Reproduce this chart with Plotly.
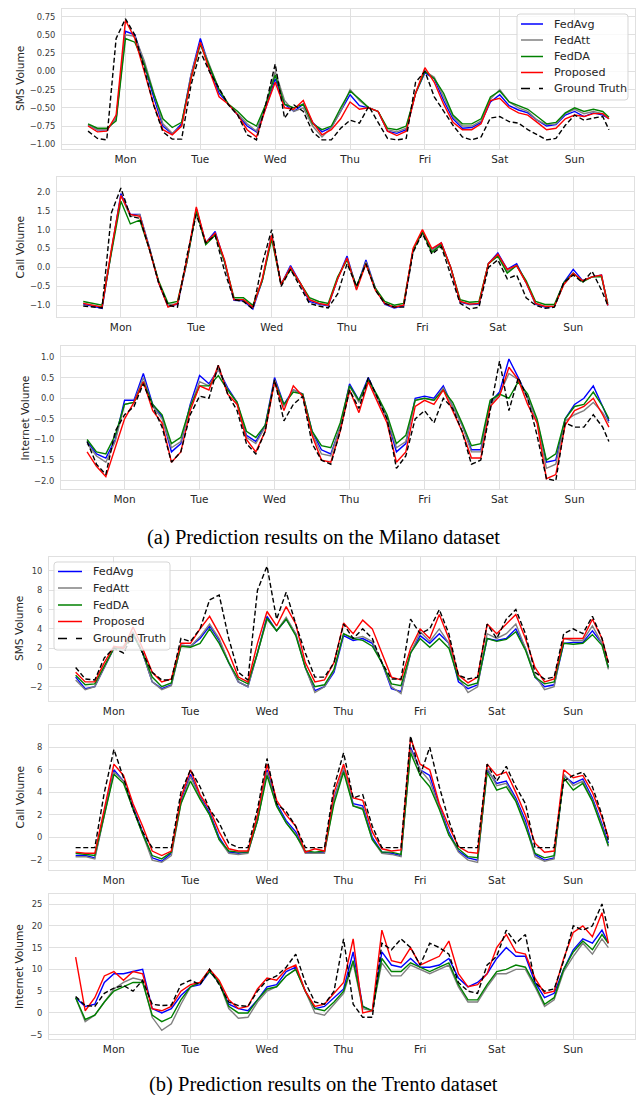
import plotly.graph_objects as go

# ---------------- data ----------------
hours = list(range(0, 166, 3)) + [167]
day_ticks = [12, 36, 60, 84, 108, 132, 156]
day_labels = ["Mon", "Tue", "Wed", "Thu", "Fri", "Sat", "Sun"]
series_names = ["FedAvg", "FedAtt", "FedDA", "Proposed", "Ground Truth"]

# Milano SMS
milano_sms_fedavg = [
    -0.73, -0.80, -0.80, -0.65, 0.55, 0.50, 0.10, -0.35,
    -0.75, -0.86, -0.72, -0.05, 0.45, 0.05, -0.30, -0.45,
    -0.60, -0.75, -0.83, -0.50, -0.10, -0.45, -0.55, -0.45,
    -0.70, -0.83, -0.77, -0.55, -0.32, -0.47, -0.50, -0.55,
    -0.82, -0.85, -0.80, -0.30, -0.02, -0.10, -0.40, -0.65,
    -0.78, -0.77, -0.70, -0.42, -0.32, -0.47, -0.53, -0.57,
    -0.67, -0.75, -0.73, -0.60, -0.55, -0.62, -0.57, -0.60,
    -0.65]
milano_sms_fedatt = [
    -0.73, -0.80, -0.80, -0.65, 0.50, 0.48, 0.15, -0.30,
    -0.72, -0.85, -0.75, -0.05, 0.40, 0.08, -0.25, -0.45,
    -0.58, -0.72, -0.82, -0.45, 0.00, -0.40, -0.55, -0.50,
    -0.75, -0.90, -0.77, -0.55, -0.25, -0.40, -0.50, -0.55,
    -0.80, -0.83, -0.78, -0.30, 0.00, -0.08, -0.35, -0.62,
    -0.75, -0.75, -0.68, -0.38, -0.25, -0.42, -0.50, -0.55,
    -0.67, -0.73, -0.72, -0.58, -0.52, -0.58, -0.55, -0.58,
    -0.65]
milano_sms_fedda = [
    -0.72, -0.78, -0.78, -0.68, 0.45, 0.40, 0.10, -0.30,
    -0.65, -0.77, -0.70, -0.10, 0.37, 0.05, -0.25, -0.45,
    -0.55, -0.68, -0.75, -0.45, -0.05, -0.45, -0.50, -0.45,
    -0.72, -0.80, -0.75, -0.50, -0.27, -0.38, -0.50, -0.55,
    -0.78, -0.80, -0.75, -0.30, 0.00, -0.10, -0.30, -0.60,
    -0.72, -0.72, -0.65, -0.35, -0.27, -0.42, -0.47, -0.52,
    -0.62, -0.72, -0.70, -0.57, -0.50, -0.55, -0.52, -0.55,
    -0.63]
milano_sms_proposed = [
    -0.75, -0.83, -0.82, -0.60, 0.70, 0.45, 0.00, -0.45,
    -0.80, -0.87, -0.75, -0.10, 0.40, 0.00, -0.35, -0.45,
    -0.60, -0.80, -0.90, -0.50, -0.15, -0.50, -0.52, -0.40,
    -0.70, -0.87, -0.80, -0.65, -0.42, -0.52, -0.50, -0.55,
    -0.82, -0.88, -0.82, -0.30, 0.05, -0.15, -0.45, -0.70,
    -0.80, -0.80, -0.72, -0.40, -0.37, -0.50, -0.57, -0.60,
    -0.70, -0.80, -0.78, -0.65, -0.60, -0.62, -0.58, -0.58,
    -0.65]
milano_sms_truth = [
    -0.82, -0.92, -0.94, 0.45, 0.72, 0.50, 0.04, -0.46,
    -0.83, -0.93, -0.93, -0.19, 0.27, -0.01, -0.23, -0.46,
    -0.60, -0.87, -0.94, -0.45, 0.10, -0.64, -0.46, -0.55,
    -0.83, -0.94, -0.94, -0.78, -0.67, -0.71, -0.48, -0.71,
    -0.92, -0.94, -0.92, -0.15, 0.00, -0.35, -0.55, -0.74,
    -0.90, -0.94, -0.90, -0.64, -0.62, -0.69, -0.71, -0.80,
    -0.87, -0.94, -0.92, -0.74, -0.60, -0.67, -0.64, -0.62,
    -0.80]

# Milano Call
milano_call_fedavg = [
    -0.97, -1.02, -1.08, 0.45, 1.95, 1.40, 1.40, 0.55,
    -0.40, -1.03, -0.97, 0.15, 1.55, 0.65, 0.95, 0.15,
    -0.87, -0.88, -1.10, -0.35, 0.85, -0.45, 0.05, -0.40,
    -0.90, -0.97, -1.02, -0.30, 0.30, -0.55, 0.20, -0.55,
    -0.97, -1.07, -1.02, 0.45, 0.95, 0.45, 0.65, 0.00,
    -0.92, -0.98, -0.97, 0.10, 0.38, -0.05, 0.10, -0.40,
    -0.97, -1.05, -1.03, -0.40, -0.05, -0.35, -0.25, -0.20,
    -1.00]
milano_call_fedatt = [
    -0.95, -1.00, -1.05, 0.45, 1.90, 1.35, 1.40, 0.55,
    -0.40, -1.00, -0.95, 0.15, 1.55, 0.65, 0.90, 0.15,
    -0.85, -0.85, -1.05, -0.35, 0.85, -0.45, 0.00, -0.40,
    -0.85, -0.95, -1.00, -0.30, 0.25, -0.55, 0.15, -0.55,
    -0.95, -1.05, -1.00, 0.45, 0.95, 0.45, 0.60, 0.00,
    -0.90, -0.97, -0.95, 0.10, 0.33, -0.10, 0.05, -0.40,
    -0.95, -1.03, -1.03, -0.45, -0.15, -0.35, -0.25, -0.22,
    -1.00]
milano_call_fedda = [
    -0.90, -0.95, -1.00, 0.40, 1.75, 1.15, 1.25, 0.50,
    -0.35, -0.95, -0.90, 0.15, 1.50, 0.60, 0.85, 0.15,
    -0.80, -0.80, -1.00, -0.35, 0.75, -0.45, -0.05, -0.40,
    -0.80, -0.90, -0.95, -0.25, 0.20, -0.50, 0.10, -0.55,
    -0.90, -1.00, -0.95, 0.45, 0.95, 0.40, 0.60, 0.00,
    -0.85, -0.92, -0.90, 0.10, 0.30, -0.15, 0.05, -0.35,
    -0.90, -0.98, -0.98, -0.40, -0.15, -0.38, -0.25, -0.25,
    -0.95]
milano_call_proposed = [
    -0.95, -1.00, -1.05, 0.50, 1.90, 1.40, 1.35, 0.50,
    -0.40, -1.05, -0.95, 0.20, 1.60, 0.65, 0.90, 0.20,
    -0.85, -0.85, -1.05, -0.30, 0.85, -0.45, 0.00, -0.40,
    -0.85, -0.95, -1.00, -0.30, 0.25, -0.60, 0.10, -0.60,
    -0.95, -1.05, -1.00, 0.50, 1.00, 0.50, 0.65, 0.00,
    -0.90, -0.97, -0.95, 0.10, 0.35, -0.05, 0.05, -0.40,
    -0.95, -1.03, -1.03, -0.45, -0.15, -0.35, -0.25, -0.20,
    -1.00]
milano_call_truth = [
    -1.02, -1.05, -1.07, 1.45, 2.10, 1.35, 1.30, 0.50,
    -0.40, -1.00, -1.05, 0.30, 1.40, 0.65, 0.85, -0.10,
    -0.85, -0.90, -1.10, 0.10, 1.00, -0.50, -0.05, -0.50,
    -0.95, -1.02, -1.07, -0.70, 0.10, -0.50, 0.10, -0.60,
    -0.95, -1.05, -1.05, 0.40, 0.90, 0.35, 0.55, -0.20,
    -0.95, -1.10, -1.05, 0.00, 0.20, -0.30, -0.20, -0.80,
    -1.00, -1.08, -1.05, -0.40, -0.20, -0.40, -0.10, -0.60,
    -1.00]

# Milano Internet
milano_net_fedavg = [
    -1.05, -1.35, -1.45, -1.00, -0.05, -0.05, 0.60, -0.15,
    -0.45, -1.30, -1.10, -0.15, 0.55, 0.35, 0.70, 0.25,
    -0.10, -0.90, -1.05, -0.65, 0.50, -0.15, 0.20, 0.10,
    -0.80, -1.25, -1.35, -0.70, 0.35, -0.05, 0.50, 0.00,
    -0.50, -1.30, -1.10, 0.00, 0.05, 0.00, 0.30, -0.20,
    -0.65, -1.25, -1.25, -0.10, 0.15, 0.95, 0.50, 0.00,
    -0.55, -1.55, -1.50, -0.50, -0.15, 0.00, 0.30, -0.20,
    -0.55]
milano_net_fedatt = [
    -1.10, -1.40, -1.55, -1.05, -0.15, -0.10, 0.50, -0.20,
    -0.50, -1.20, -1.05, -0.20, 0.40, 0.30, 0.70, 0.20,
    -0.10, -0.95, -1.10, -0.70, 0.45, -0.20, 0.20, 0.10,
    -0.85, -1.35, -1.40, -0.70, 0.30, -0.10, 0.45, 0.00,
    -0.50, -1.20, -1.05, -0.05, 0.00, -0.05, 0.25, -0.20,
    -0.65, -1.30, -1.30, -0.15, 0.10, 0.60, 0.45, 0.00,
    -0.55, -1.70, -1.60, -0.55, -0.40, -0.30, -0.10, -0.35,
    -0.60]
milano_net_fedda = [
    -1.00, -1.30, -1.35, -0.90, -0.15, -0.10, 0.40, -0.15,
    -0.40, -1.10, -0.95, -0.20, 0.30, 0.30, 0.55, 0.20,
    -0.10, -0.80, -0.95, -0.65, 0.40, -0.15, 0.15, 0.10,
    -0.80, -1.15, -1.20, -0.60, 0.30, -0.05, 0.45, 0.05,
    -0.40, -1.10, -0.90, -0.05, 0.00, -0.05, 0.20, -0.10,
    -0.60, -1.15, -1.10, -0.05, 0.10, 0.00, 0.40, 0.10,
    -0.50, -1.50, -1.35, -0.50, -0.20, -0.15, 0.15, -0.20,
    -0.50]
milano_net_proposed = [
    -1.30, -1.65, -1.90, -1.20, -0.50, -0.10, 0.40, -0.30,
    -0.60, -1.55, -1.30, -0.30, 0.30, 0.20, 0.80, 0.10,
    -0.15, -1.00, -1.30, -0.80, 0.40, -0.30, 0.30, 0.05,
    -0.90, -1.50, -1.55, -0.80, 0.20, -0.35, 0.40, -0.10,
    -0.60, -1.55, -1.30, -0.20, -0.05, -0.15, 0.20, -0.30,
    -0.80, -1.45, -1.45, -0.20, 0.05, 0.75, 0.45, -0.15,
    -0.60, -1.95, -1.85, -0.65, -0.30, -0.20, 0.00, -0.40,
    -0.70]
milano_net_truth = [
    -1.05, -1.60, -1.85, -0.80, -0.40, -0.20, 0.35, -0.20,
    -0.70, -1.55, -1.30, -0.40, 0.05, 0.00, 0.80, 0.10,
    -0.30, -1.10, -1.35, -0.80, 0.45, -0.55, -0.15, 0.05,
    -1.10, -1.50, -1.60, -0.80, 0.20, -0.25, 0.50, 0.00,
    -0.50, -1.70, -1.40, -0.50, -0.30, -0.60, 0.00, -0.25,
    -0.80, -1.60, -1.50, -0.30, 0.90, -0.30, 0.50, 0.00,
    -0.90, -1.95, -2.00, -0.60, -0.70, -0.70, -0.40, -0.70,
    -1.05]

# Trento SMS
trento_sms_fedavg = [
    -1.00, -2.20, -2.00, 0.00, 2.00, 2.00, 3.50, 1.50,
    -1.50, -2.20, -1.80, 2.30, 2.20, 3.00, 4.30, 2.80,
    0.50, -1.50, -2.00, 1.50, 5.30, 3.80, 5.00, 3.50,
    0.00, -2.40, -2.00, -0.50, 3.30, 2.80, 3.00, 2.50,
    0.50, -2.20, -2.50, 1.50, 3.30, 2.50, 3.50, 2.50,
    -1.50, -2.20, -1.80, 3.00, 2.80, 3.00, 4.00, 2.00,
    -1.00, -2.00, -1.80, 2.50, 2.60, 2.60, 3.80, 2.50,
    0.00]
trento_sms_fedatt = [
    -1.30, -2.30, -2.00, 0.00, 2.00, 2.20, 3.70, 1.50,
    -1.50, -2.30, -1.90, 2.30, 2.20, 3.20, 4.50, 3.00,
    0.50, -1.50, -2.00, 1.50, 5.00, 3.80, 5.20, 3.50,
    0.00, -2.60, -2.00, -0.30, 3.50, 3.00, 3.20, 2.70,
    0.50, -2.00, -2.70, 1.50, 3.70, 2.70, 4.00, 2.50,
    -1.00, -2.60, -2.00, 3.50, 3.00, 3.50, 4.50, 2.00,
    -0.80, -2.30, -2.00, 3.00, 2.80, 2.80, 4.30, 2.50,
    -0.20]
trento_sms_fedda = [
    -0.80, -1.80, -1.70, 0.20, 2.00, 2.00, 3.40, 1.50,
    -1.00, -2.00, -1.60, 2.20, 2.10, 2.50, 4.00, 2.50,
    0.50, -1.20, -1.70, 1.50, 5.10, 3.80, 5.00, 3.30,
    0.00, -2.00, -1.80, -0.20, 3.50, 3.00, 2.80, 2.20,
    0.50, -1.70, -1.90, 1.50, 3.00, 2.10, 3.00, 2.00,
    -1.20, -1.90, -1.60, 3.00, 2.70, 2.90, 3.70, 1.80,
    -1.00, -1.70, -1.50, 2.50, 2.40, 2.50, 3.40, 2.30,
    0.00]
trento_sms_proposed = [
    -0.50, -1.50, -1.50, 0.50, 2.20, 2.00, 4.20, 2.00,
    -0.50, -1.50, -1.20, 2.50, 2.50, 4.00, 5.30, 3.50,
    1.50, -1.00, -1.50, 2.50, 5.80, 4.30, 6.30, 4.50,
    0.50, -1.50, -1.30, 0.50, 4.60, 3.50, 4.90, 4.00,
    1.50, -1.00, -1.30, 2.00, 4.00, 3.00, 5.50, 3.00,
    -0.80, -1.60, -1.00, 4.50, 3.50, 4.50, 5.50, 3.00,
    0.00, -1.50, -1.20, 3.00, 3.00, 3.00, 5.00, 3.00,
    0.50]
trento_sms_truth = [
    0.00, -1.20, -1.30, 1.00, 2.00, 1.50, 3.50, 1.50,
    -0.50, -1.30, -1.30, 3.00, 2.70, 4.00, 7.00, 7.50,
    3.00, -0.50, -1.30, 8.00, 10.50, 5.00, 7.80, 4.50,
    1.50, -1.00, -1.00, 0.50, 4.50, 3.00, 4.00, 3.00,
    0.50, -1.20, -1.20, 5.00, 3.50, 4.00, 6.00, 3.50,
    -0.80, -1.20, -1.00, 4.50, 3.00, 5.00, 6.00, 3.50,
    -0.50, -1.20, -1.00, 3.50, 4.00, 3.50, 5.30, 3.00,
    0.50]

# Trento Call
trento_call_fedavg = [
    -1.60, -1.60, -1.80, 2.00, 6.00, 5.00, 2.70, 0.50,
    -1.80, -2.10, -1.40, 3.20, 5.60, 3.60, 2.20, 0.00,
    -1.30, -1.40, -1.30, 1.50, 6.00, 3.00, 1.50, 0.50,
    -1.30, -1.40, -1.30, 3.50, 6.00, 3.00, 2.80, 0.00,
    -1.30, -1.40, -1.60, 8.00, 6.00, 5.50, 2.80, 0.50,
    -1.20, -1.80, -2.00, 6.00, 4.80, 5.00, 3.50, 1.50,
    -1.50, -2.00, -1.80, 5.50, 4.80, 5.20, 3.50, 1.20,
    -0.50]
trento_call_fedatt = [
    -1.70, -1.70, -1.90, 2.00, 5.80, 5.00, 2.50, 0.30,
    -2.00, -2.20, -1.60, 3.00, 5.40, 3.50, 2.00, -0.20,
    -1.40, -1.50, -1.40, 1.50, 5.80, 2.80, 1.30, 0.30,
    -1.40, -1.40, -1.40, 3.30, 6.20, 2.80, 2.60, -0.20,
    -1.40, -1.50, -1.70, 7.80, 6.00, 5.00, 2.60, 0.30,
    -1.30, -2.00, -2.20, 6.20, 4.60, 4.80, 3.30, 1.20,
    -1.70, -2.10, -1.90, 5.60, 4.60, 5.00, 3.30, 1.00,
    -0.80]
trento_call_fedda = [
    -1.40, -1.50, -1.60, 2.00, 5.60, 4.80, 2.50, 0.30,
    -1.60, -1.90, -1.30, 3.00, 5.00, 3.40, 2.00, -0.20,
    -1.20, -1.30, -1.30, 1.50, 5.50, 2.80, 1.30, 0.20,
    -1.20, -1.30, -1.20, 3.00, 5.80, 2.80, 2.50, -0.20,
    -1.30, -1.30, -1.50, 7.50, 5.50, 4.50, 2.50, 0.20,
    -1.00, -1.70, -1.80, 5.80, 4.20, 4.50, 3.20, 1.00,
    -1.40, -1.80, -1.60, 5.30, 4.20, 4.80, 3.20, 0.80,
    -0.70]
trento_call_proposed = [
    -1.30, -1.40, -1.40, 2.50, 6.50, 5.50, 3.00, 1.00,
    -1.20, -1.60, -1.20, 3.50, 6.00, 3.80, 2.50, 0.50,
    -1.00, -1.20, -1.20, 2.00, 6.50, 3.30, 2.00, 1.00,
    -1.30, -1.00, -1.20, 4.00, 6.50, 3.50, 3.30, 0.50,
    -1.00, -1.20, -1.10, 8.80, 6.50, 6.00, 3.00, 1.00,
    -0.80, -1.30, -1.40, 6.50, 5.50, 5.80, 4.00, 2.00,
    -0.50, -1.30, -1.20, 6.00, 5.30, 5.50, 4.00, 1.80,
    0.00]
trento_call_truth = [
    -0.90, -0.90, -0.90, 4.00, 7.80, 5.30, 2.50, 0.50,
    -0.90, -0.90, -0.90, 4.00, 6.00, 4.50, 2.50, 1.30,
    -0.50, -0.90, -0.90, 2.50, 7.00, 3.00, 2.30, 1.00,
    -0.90, -0.90, -0.90, 4.50, 7.50, 3.50, 3.80, 1.00,
    -0.90, -0.90, -0.90, 9.00, 5.50, 8.00, 4.50, 1.50,
    -0.90, -0.90, -0.90, 6.50, 5.00, 6.30, 4.50, 3.00,
    -0.90, -0.90, -0.90, 5.00, 5.50, 5.80, 4.50, 2.00,
    -0.20]

# Trento Internet
trento_net_fedavg = [
    3.50, 1.50, 2.00, 7.00, 9.00, 9.00, 9.50, 10.00,
    1.00, 0.00, 1.00, 4.00, 6.00, 6.50, 9.50, 7.00,
    2.00, 1.00, 0.50, 3.00, 6.00, 6.50, 9.50, 10.50,
    5.00, 1.00, 1.50, 3.50, 5.50, 14.00, 1.50, 0.50,
    14.00, 11.00, 10.50, 12.50, 10.50, 10.50, 11.00, 12.50,
    8.00, 6.00, 7.00, 9.00, 12.50, 15.00, 13.00, 13.00,
    7.00, 3.50, 4.50, 10.00, 14.50, 17.00, 16.00, 19.00,
    16.00]
trento_net_fedatt = [
    3.50, -2.00, -0.50, 2.50, 5.50, 7.00, 8.00, 7.50,
    -1.00, -4.00, -2.50, 2.00, 6.00, 7.00, 10.00, 7.00,
    1.00, -1.20, -1.00, 2.50, 5.00, 6.00, 8.50, 10.00,
    5.00, 0.00, -0.50, 2.00, 4.50, 11.50, 1.00, 0.50,
    11.50, 8.50, 8.50, 11.00, 10.00, 9.00, 10.00, 11.00,
    6.00, 2.50, 2.50, 6.00, 9.00, 9.00, 10.00, 10.00,
    6.00, 1.50, 3.00, 9.50, 13.00, 16.00, 13.50, 17.00,
    15.00]
trento_net_fedda = [
    3.50, -1.50, -0.50, 2.50, 5.00, 6.00, 7.00, 7.00,
    -0.50, -2.00, -1.00, 3.00, 6.00, 7.00, 9.50, 7.00,
    1.50, 0.00, 0.00, 3.00, 5.50, 6.00, 8.50, 10.00,
    5.00, 1.00, 0.50, 2.50, 5.00, 12.00, 1.50, 0.50,
    12.50, 9.50, 9.50, 11.50, 10.50, 9.50, 10.50, 11.50,
    6.50, 3.00, 3.00, 6.50, 9.50, 10.00, 11.00, 10.50,
    6.50, 2.00, 3.50, 10.00, 14.00, 16.50, 14.50, 18.00,
    16.00]
trento_net_proposed = [
    12.80, 0.50, 3.50, 8.50, 9.50, 7.50, 9.50, 9.00,
    1.00, 0.50, 1.50, 5.00, 6.50, 7.00, 10.00, 7.50,
    3.00, 1.00, 1.50, 5.50, 8.00, 7.50, 10.00, 11.00,
    5.00, 1.50, 2.00, 4.50, 7.00, 17.00, 0.00, 0.50,
    19.00, 12.00, 11.50, 15.00, 11.00, 12.00, 13.00, 16.50,
    9.00, 6.00, 6.50, 9.00, 15.00, 18.00, 14.00, 13.50,
    8.00, 4.50, 5.00, 12.50, 18.50, 20.00, 17.50, 23.00,
    16.00]
trento_net_truth = [
    3.80, 1.70, 1.50, 4.50, 5.70, 6.30, 5.00, 7.50,
    2.00, 1.70, 1.80, 6.50, 7.50, 6.50, 10.00, 6.50,
    2.50, 1.70, 1.50, 5.00, 7.50, 8.50, 10.50, 13.50,
    7.00, 2.50, 2.00, 5.00, 17.00, 2.00, -1.00, -1.00,
    16.00, 14.50, 17.00, 15.00, 11.00, 16.00, 15.00, 13.50,
    7.00, 5.00, 4.50, 11.00, 13.00, 19.00, 16.00, 18.00,
    7.00, 5.00, 5.50, 12.00, 20.00, 19.00, 20.00, 25.00,
    19.00]

y_titles = ["SMS Volume", "Call Volume", "Internet Volume",
            "SMS Volume", "Call Volume", "Internet Volume"]
captions = ["(a) Prediction results on the Milano dataset",
            "(b) Prediction results on the Trento dataset"]

# ---------------- styling / layout ----------------
W, H = 642, 1095
colors = ["#0000ff", "#808080", "#008000", "#ff0000", "#000000"]
dashes = ["solid", "solid", "solid", "solid", "5px,2.6px"]

panel_series = [
    [milano_sms_fedavg, milano_sms_fedatt, milano_sms_fedda, milano_sms_proposed, milano_sms_truth],
    [milano_call_fedavg, milano_call_fedatt, milano_call_fedda, milano_call_proposed, milano_call_truth],
    [milano_net_fedavg, milano_net_fedatt, milano_net_fedda, milano_net_proposed, milano_net_truth],
    [trento_sms_fedavg, trento_sms_fedatt, trento_sms_fedda, trento_sms_proposed, trento_sms_truth],
    [trento_call_fedavg, trento_call_fedatt, trento_call_fedda, trento_call_proposed, trento_call_truth],
    [trento_net_fedavg, trento_net_fedatt, trento_net_fedda, trento_net_proposed, trento_net_truth],
]

# plot-area boxes in pixels: (x0, x1, y0_top, y1_bottom)
boxes = [(62, 635, 9, 149), (57, 634, 177, 317), (61, 635, 346, 489),
         (49, 635, 557, 701), (49, 635, 725, 870), (49, 635, 894, 1039)]
y_ranges = [(-1.065, 0.855), (-1.31, 2.39), (-2.2, 1.266),
            (-3.48, 11.45), (-2.88, 9.97), (-5.98, 27.3)]
y_ticks = [[-1.0, -0.75, -0.5, -0.25, 0.0, 0.25, 0.5, 0.75],
           [-1.0, -0.5, 0.0, 0.5, 1.0, 1.5, 2.0],
           [-2.0, -1.5, -1.0, -0.5, 0.0, 0.5, 1.0],
           [-2, 0, 2, 4, 6, 8, 10],
           [-2, 0, 2, 4, 6, 8],
           [-5, 0, 5, 10, 15, 20, 25]]
y_formats = [".2f", ".1f", ".1f", "d", "d", "d"]
ytitle_x = [20, 19.5, 24, 19, 19, 19.5]

grid_c = "#e0e0e0"
tick_c = "#3a3a3a"

fig = go.Figure()
for p, series in enumerate(panel_series):
    sfx = "" if p == 0 else str(p + 1)
    for k, vals in enumerate(series):
        fig.add_trace(go.Scatter(
            x=hours, y=vals, mode="lines", name=series_names[k],
            line=dict(color=colors[k], width=1.4, dash=dashes[k]),
            xaxis="x" + sfx, yaxis="y" + sfx, showlegend=False,
        ))

layout = dict(
    width=W, height=H, margin=dict(l=0, r=0, t=0, b=0),
    paper_bgcolor="white", plot_bgcolor="white",
    font=dict(family="DejaVu Sans", color="#262626"),
    annotations=[], shapes=[], showlegend=False,
)
for p in range(6):
    sfx = "" if p == 0 else str(p + 1)
    x0, x1, y0, y1 = boxes[p]
    layout["xaxis" + sfx] = dict(
        domain=[x0 / W, x1 / W], range=[-8.35, 175.35],
        tickvals=day_ticks, ticktext=day_labels,
        showgrid=True, gridcolor=grid_c, gridwidth=1,
        zeroline=False, showline=True, linecolor=grid_c, linewidth=1, mirror=True,
        ticks="", tickfont=dict(size=10.5, color="#262626"),
        anchor="y" + sfx,
    )
    layout["yaxis" + sfx] = dict(
        domain=[1 - y1 / H, 1 - y0 / H], range=list(y_ranges[p]),
        tickvals=y_ticks[p], tickformat=y_formats[p],
        showgrid=True, gridcolor=grid_c, gridwidth=1,
        zeroline=False, showline=True, linecolor=grid_c, linewidth=1, mirror=True,
        ticks="", tickfont=dict(size=8.4, color=tick_c), ticklabelstandoff=4,
        anchor="x" + sfx,
    )
    layout["annotations"].append(dict(
        text=y_titles[p], textangle=-90, showarrow=False,
        xref="paper", yref="paper", x=ytitle_x[p] / W, y=1 - (y0 + y1) / 2 / H,
        xanchor="center", yanchor="middle",
        font=dict(size=10.6, color="#262626", family="DejaVu Sans"),
    ))

for cap, yc in zip(captions, [537, 1084]):
    layout["annotations"].append(dict(
        text=cap, showarrow=False, xref="paper", yref="paper",
        x=323 / W, y=1 - yc / H, xanchor="center", yanchor="middle",
        font=dict(size=20.5, color="#000000", family="Liberation Serif"),
    ))

# matplotlib-style legend boxes (frame, line keys, labels)
legend_boxes = [
    dict(box=(517, 628, 14, 100), key=(521, 543), text_x=552, rows=[24, 40, 56.5, 72.5, 88.5]),
    dict(box=(54, 170, 562, 650), key=(58, 82), text_x=91, rows=[571.5, 588, 605, 621.5, 638.5]),
]
for lg in legend_boxes:
    bx0, bx1, by0, by1 = lg["box"]
    r = 3
    pts = [("M", bx0 + r, by0), ("L", bx1 - r, by0), ("Q", bx1, by0), ("", bx1, by0 + r),
           ("L", bx1, by1 - r), ("Q", bx1, by1), ("", bx1 - r, by1), ("L", bx0 + r, by1),
           ("Q", bx0, by1), ("", bx0, by1 - r), ("L", bx0, by0 + r), ("Q", bx0, by0),
           ("", bx0 + r, by0)]
    path = " ".join(f"{c} {px / W:.5f},{1 - py / H:.5f}".strip() for c, px, py in pts) + " Z"
    layout["shapes"].append(dict(
        type="path", xref="paper", yref="paper", path=path,
        fillcolor="rgba(255,255,255,0.8)", line=dict(color="#d6d6d6", width=1),
        layer="above",
    ))
    kx0, kx1 = lg["key"]
    for k, ry in enumerate(lg["rows"]):
        layout["shapes"].append(dict(
            type="line", xref="paper", yref="paper",
            x0=kx0 / W, x1=kx1 / W, y0=1 - ry / H, y1=1 - ry / H,
            line=dict(color=colors[k], width=1.5, dash="dash" if k == 4 else "solid"),
            layer="above",
        ))
        layout["annotations"].append(dict(
            text=series_names[k], showarrow=False, xref="paper", yref="paper",
            x=lg["text_x"] / W, y=1 - ry / H, xanchor="left", yanchor="middle",
            font=dict(size=11.2, color="#262626", family="DejaVu Sans"),
        ))

fig.update_layout(**layout)
fig.write_html("out.html")
